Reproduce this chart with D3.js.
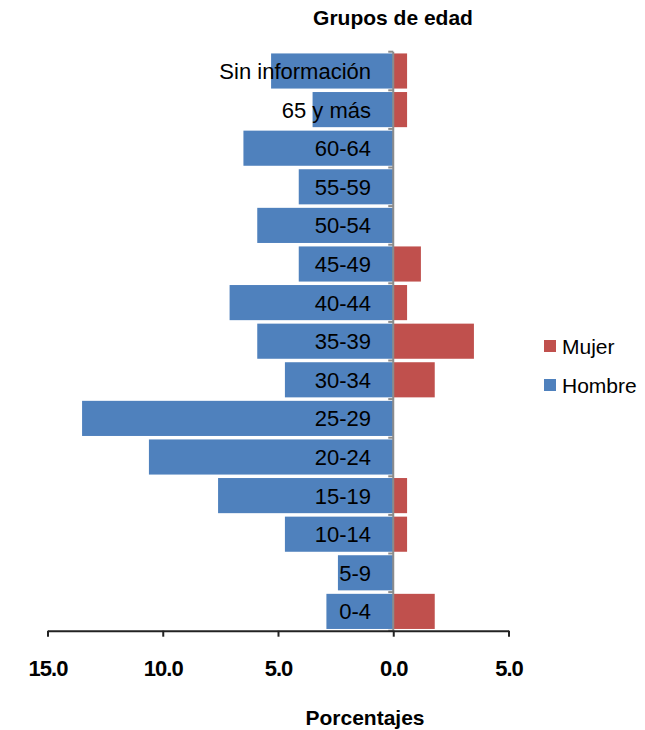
<!DOCTYPE html>
<html>
<head>
<meta charset="utf-8">
<script src="https://cdnjs.cloudflare.com/ajax/libs/d3/7.8.5/d3.min.js"></script>
<style>
  body { margin: 0; background: #fff; }
  svg { display: block; font-family: 'Liberation Sans', Arial, sans-serif; }
</style>
</head>
<body>
<script>
var width = 645,
    height = 730;

// Age groups, top to bottom
var categorias = ['Sin información', '65 y más', '60-64', '55-59', '50-54', '45-49',
  '40-44', '35-39', '30-34', '25-29', '20-24', '15-19', '10-14', '5-9', '0-4'];

// Percentages per group
var hombre = [5.3, 3.5, 6.5, 4.1, 5.9, 4.1, 7.1, 5.9, 4.7, 13.5, 10.6, 7.6, 4.7, 2.4, 2.9];
var mujer = [0.6, 0.6, 0, 0, 0, 1.2, 0.6, 3.5, 1.8, 0, 0, 0.6, 0.6, 0, 1.8];

var xTicks = [-15, -10, -5, 0, 5];

var series = ['Mujer', 'Hombre'];
var colores = ['#C0504D', '#4F81BD'];

var svg = d3.select('body').append('svg')
    .attr('width', width)
    .attr('height', height);

var x = d3.scaleLinear()
    .domain([-15, 5])
    .range([47.5, 508.5]);

var y = d3.scaleBand()
    .domain(categorias)
    .range([51.7, 630.7])
    .paddingInner(0.09)
    .paddingOuter(0.045);

// bars
svg.append('g').selectAll('rect.h')
    .data(categorias)
    .enter().append('rect')
    .attr('x', function(d, i) { return x(-hombre[i]); })
    .attr('y', function(d) { return y(d); })
    .attr('width', function(d, i) { return x(0) - x(-hombre[i]); })
    .attr('height', y.bandwidth())
    .attr('fill', colores[1]);

svg.append('g').selectAll('rect.m')
    .data(categorias.filter(function(d, i) { return mujer[i] > 0; }))
    .enter().append('rect')
    .attr('x', x(0))
    .attr('y', function(d) { return y(d); })
    .attr('width', function(d) { return x(mujer[categorias.indexOf(d)]) - x(0); })
    .attr('height', y.bandwidth())
    .attr('fill', colores[0]);

// category labels over the bars
svg.append('g').selectAll('text')
    .data(categorias)
    .enter().append('text')
    .attr('x', 371)
    .attr('y', function(d) { return y(d) + y.bandwidth() / 2; })
    .attr('dy', '0.36em')
    .attr('text-anchor', 'end')
    .style('font-size', '22px')
    .style('fill', '#000')
    .text(function(d) { return d; });

// vertical axis at zero with boundary ticks
var half = y.step() * y.paddingInner() / 2;
var bounds = categorias.map(function(d) { return y(d) - half; }).concat([y.range()[1]]);
var yAxis = svg.append('g');
yAxis.append('line')
    .attr('x1', x(0)).attr('x2', x(0))
    .attr('y1', y.range()[0]).attr('y2', y.range()[1])
    .style('stroke', '#8c8c8c')
    .style('stroke-width', 2);
yAxis.selectAll('line.t')
    .data(bounds)
    .enter().append('line')
    .attr('x1', x(0) - 5).attr('x2', x(0))
    .attr('y1', function(d) { return d; })
    .attr('y2', function(d) { return d; })
    .style('stroke', '#8c8c8c')
    .style('stroke-width', 2);

// bottom axis
var xAxis = svg.append('g')
    .attr('transform', 'translate(0,' + y.range()[1] + ')')
    .call(d3.axisBottom(x)
      .tickValues(xTicks)
      .tickSizeInner(6)
      .tickSizeOuter(0)
      .tickPadding(24)
      .tickFormat(function(d) { return Math.abs(d).toFixed(1); }));
xAxis.select('.domain').style('stroke', '#222').style('stroke-width', 2);
xAxis.selectAll('.tick line').style('stroke', '#222').style('stroke-width', 2);
xAxis.selectAll('.tick text')
    .style('font-family', "'Liberation Sans', Arial, sans-serif")
    .style('font-size', '22px')
    .style('font-weight', 'bold')
    .style('letter-spacing', '-1px')
    .style('fill', '#000');

// titles
svg.append('text')
    .attr('x', 393)
    .attr('y', 25)
    .attr('text-anchor', 'middle')
    .style('font-size', '21px')
    .style('font-weight', 'bold')
    .text('Grupos de edad');

svg.append('text')
    .attr('x', 365)
    .attr('y', 725)
    .attr('text-anchor', 'middle')
    .style('font-size', '21px')
    .style('font-weight', 'bold')
    .text('Porcentajes');

// legend
var legend = svg.append('g').selectAll('g')
    .data(series)
    .enter().append('g')
    .attr('transform', function(d, i) { return 'translate(544,' + (346 + i * 39) + ')'; });
legend.append('rect')
    .attr('x', 0).attr('y', -6)
    .attr('width', 12).attr('height', 12)
    .attr('fill', function(d, i) { return colores[i]; });
legend.append('text')
    .attr('x', 18)
    .attr('dy', '0.36em')
    .style('font-size', '21px')
    .text(function(d) { return d; });
</script>
</body>
</html>
